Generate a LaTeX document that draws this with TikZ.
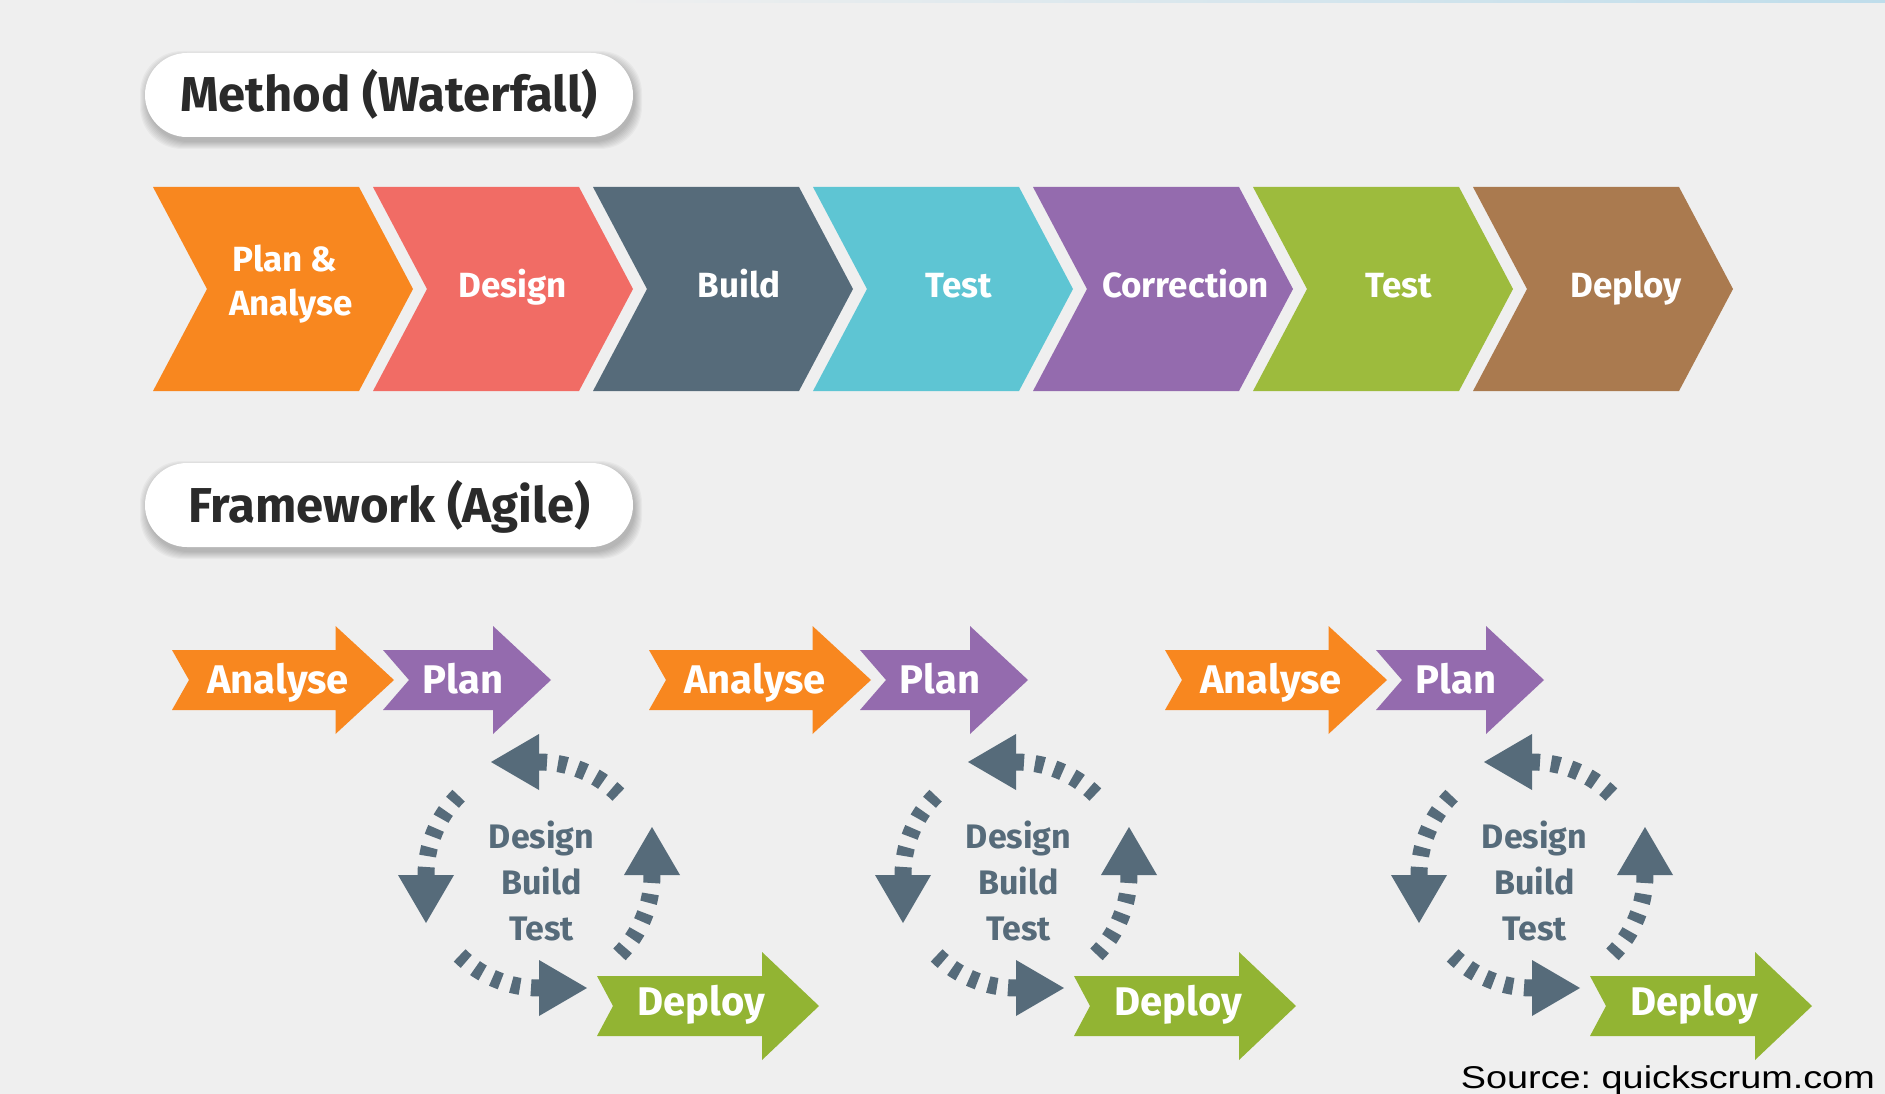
\documentclass[tikz,border=0pt]{standalone}
\usepackage{fontspec}
\setmainfont{Fira Sans}
\newfontfamily\srcfont{Liberation Sans}
\usetikzlibrary{calc}
\definecolor{bg}{HTML}{EFEFEF}
\definecolor{corange}{HTML}{F8871F}
\definecolor{csalmon}{HTML}{F16C65}
\definecolor{cslate}{HTML}{566B7A}
\definecolor{ccyan}{HTML}{5EC5D3}
\definecolor{cpurple}{HTML}{946BAE}
\definecolor{cgreen}{HTML}{9DBB3D}
\definecolor{cbrown}{HTML}{AA7A4F}
\definecolor{cdeploy}{HTML}{92B433}
\definecolor{ctitle}{HTML}{2A2A2A}
\definecolor{ctopline}{HTML}{BFDDEB}
\frenchspacing
\tikzset{
  wlabel/.style={anchor=base, text=white, font=\bfseries\fontsize{35}{35}\selectfont, inner sep=0pt},
  alabel/.style={anchor=base, text=white, font=\bfseries\fontsize{40}{40}\selectfont, inner sep=0pt},
  looplabel/.style={anchor=base, text=cslate, font=\bfseries\fontsize{34}{34}\selectfont, inner sep=0pt},
  pill/.style={fill=white, rounded corners=42pt, minimum width=488pt, minimum height=84pt, inner sep=0pt, text=ctitle, font=\bfseries\fontsize{49}{49}\selectfont, text height=34pt, text depth=0pt},
  tail/.style={draw=cslate, line width=17pt, dash pattern=on 9pt off 11pt},
  srclabel/.style={anchor=base east, text=black, font=\srcfont\fontsize{31.5}{31.5}\selectfont, inner sep=0pt},
}
% chevron: left x, colour
\newcommand\chev[2]{%
  \fill[#2] (#1,187) -- ++(206,0) -- ++(54,102) -- ++(-54,102) -- ++(-206,0) -- ++(54,-102) -- cycle;
}
% agile arrow: left x, centre y, notch, head start, tip, colour
\newcommand\agarrow[6]{%
  \fill[#6] (#1,#2-30) -- (#1+#4,#2-30) -- (#1+#4,#2-54) -- (#1+#5,#2) -- (#1+#4,#2+54) -- (#1+#4,#2+30) -- (#1,#2+30) -- (#1+#3,#2) -- cycle;
}
% loop of four dashed arrows around a centre
\newcommand\loopat[2]{%
  \begin{scope}[shift={(#1,#2)}]
    \foreach \rot in {0,90,180,270}{
      \begin{scope}[rotate=\rot]
        \draw[tail] (-90.5:113) arc[start angle=-90.5, end angle=-45, radius=113];
        \fill[cslate] (0,-85) -- (0,-141) -- (-48,-113) -- cycle;
      \end{scope}
    }
  \end{scope}
}
% shadow under a pill
\newcommand\pillshadow[4]{%
  \foreach \i in {0,...,7}{
    \fill[black, opacity=0.03, rounded corners=42pt] (#1+2-\i,#2+5-\i) rectangle (#3+2+\i,#4+5+\i);
  }
}
\begin{document}
\begin{tikzpicture}[x=1pt,y=-1pt]
\useasboundingbox (0,0) rectangle (1885,1094);
\fill[bg] (0,0) rectangle (1885,1094);
\shade[left color=bg, right color=ctopline] (600,0) rectangle (1885,2.5);

% titles
\pillshadow{145}{53}{633}{137}
\node[pill] (mtitle) at (389,95) {Method (Waterfall)};
\pillshadow{145}{463}{633}{547}
\node[pill] (ftitle) at (389,505) {Framework (Agile)};

% waterfall chevrons
\chev{153}{corange}
\chev{373}{csalmon}
\chev{593}{cslate}
\chev{813}{ccyan}
\chev{1033}{cpurple}
\chev{1253}{cgreen}
\chev{1473}{cbrown}
\node[wlabel] (w1a) at (285,272) {Plan \&};
\node[wlabel] (w1b) at (291,315) {Analyse};
\node[wlabel] (w2) at (512.5,298) {Design};
\node[wlabel] (w3) at (739,298) {Build};
\node[wlabel] (w4) at (959,298) {Test};
\node[wlabel] (w5) at (1185.5,298) {Correction};
\node[wlabel] (w6) at (1398.6,298) {Test};
\node[wlabel] (w7) at (1626,298) {Deploy};

% agile groups
\foreach \dx/\g in {0/1,477/2,993/3}{
  \agarrow{172+\dx}{680}{17}{163.5}{222}{corange}
  \agarrow{383+\dx}{680}{26}{110}{168}{cpurple}
  \agarrow{597+\dx}{1006}{16}{165}{222}{cdeploy}
  \node[alabel] (an\g) at (278+\dx,693) {Analyse};
  \node[alabel] (pl\g) at (463+\dx,693) {Plan};
  \node[alabel] (de\g) at (701.5+\dx,1015) {Deploy};
  \loopat{539+\dx}{875}
  \node[looplabel] (ld\g) at (541.5+\dx,848) {Design};
  \node[looplabel] (lb\g) at (541.5+\dx,894) {Build};
  \node[looplabel] (lt\g) at (541.5+\dx,940) {Test};
}

\node[srclabel] (src) at (1875,1088) {\scalebox{1.2}[1]{Source: quickscrum.com}};
\end{tikzpicture}
\end{document}
